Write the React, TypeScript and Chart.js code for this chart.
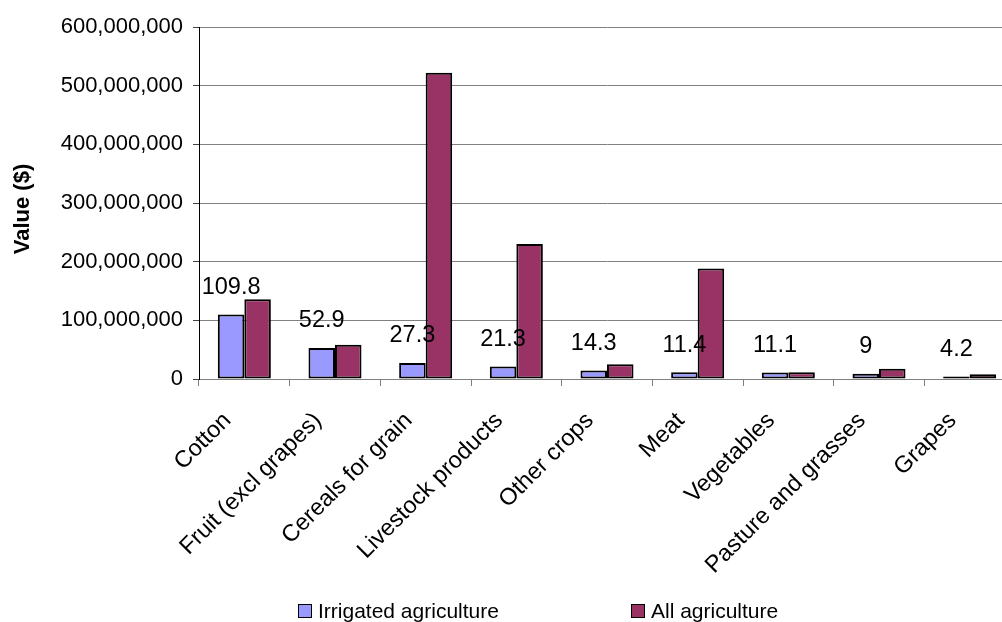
import { useEffect, useRef } from "react";
import { Chart, registerables } from "chart.js";

Chart.register(...registerables);

// Commodity groups on the category axis
const categories = [
  "Cotton",
  "Fruit (excl grapes)",
  "Cereals for grain",
  "Livestock products",
  "Other crops",
  "Meat",
  "Vegetables",
  "Pasture and grasses",
  "Grapes",
];

// Irrigated agriculture, $ million (also printed above each group)
const irrigatedMillions = [109.8, 52.9, 27.3, 21.3, 14.3, 11.4, 11.1, 9, 4.2];

// All agriculture, $ million
const allMillions = [136, 58.5, 522, 230, 25, 188.5, 11.6, 17.6, 8];

const seriesNames = ["Irrigated agriculture", "All agriculture"];
const seriesColors = ["#9999FF", "#993366"];

const yMin = 0;
const yMax = 600000000;
const yStep = 100000000;
const yTitle = "Value ($)";

const FONT = "'Liberation Sans', Arial, Helvetica, sans-serif";

const toDollars = (m: number[]) => m.map((v) => v * 1000000);

// Prints the irrigated value ($m) above each blue bar
const valueLabels = {
  id: "valueLabels",
  afterDatasetsDraw(chart: any) {
    const meta = chart.getDatasetMeta(0);
    const ctx = chart.ctx;
    ctx.save();
    ctx.font = `23.5px ${FONT}`;
    ctx.fillStyle = "#000";
    ctx.textAlign = "center";
    ctx.textBaseline = "alphabetic";
    meta.data.forEach((bar: any, i: number) => {
      ctx.fillText(String(irrigatedMillions[i]), bar.x, bar.y - 20.5);
    });
    ctx.restore();
  },
};

// Vertical value-axis title, a little below the plot's middle
const axisTitle = {
  id: "axisTitle",
  afterDraw(chart: any) {
    const ctx = chart.ctx;
    const area = chart.chartArea;
    ctx.save();
    ctx.translate(23, (area.top + area.bottom) / 2 + 6);
    ctx.rotate(-Math.PI / 2);
    ctx.font = `bold 22px ${FONT}`;
    ctx.fillStyle = "#000";
    ctx.textAlign = "center";
    ctx.textBaseline = "middle";
    ctx.fillText(yTitle, 0, 0);
    ctx.restore();
  },
};

// Two-column legend under the category labels
const bottomLegend = {
  id: "bottomLegend",
  afterDraw(chart: any) {
    const ctx = chart.ctx;
    const columns = [298, 631];
    const y = 611;
    const box = 14;
    ctx.save();
    ctx.font = `21px ${FONT}`;
    ctx.textBaseline = "middle";
    ctx.textAlign = "left";
    seriesNames.forEach((name, i) => {
      const x = columns[i];
      ctx.fillStyle = seriesColors[i];
      ctx.fillRect(x, y - box / 2, box, box);
      ctx.strokeStyle = "#000";
      ctx.lineWidth = 1;
      ctx.strokeRect(x + 0.5, y - box / 2 + 0.5, box - 1, box - 1);
      ctx.fillStyle = "#000";
      ctx.fillText(name, x + box + 6, y + 1);
    });
    ctx.restore();
  },
};

export default function App() {
  const canvasRef = useRef<HTMLCanvasElement | null>(null);

  useEffect(() => {
    const canvas = canvasRef.current;
    if (!canvas) return;
    const chart = new Chart(canvas, {
      type: "bar",
      data: {
        labels: categories,
        datasets: [
          {
            label: seriesNames[0],
            data: toDollars(irrigatedMillions),
            backgroundColor: seriesColors[0],
            borderColor: "#000",
            borderWidth: 2,
            borderSkipped: false,
          },
          {
            label: seriesNames[1],
            data: toDollars(allMillions),
            backgroundColor: seriesColors[1],
            borderColor: "#000",
            borderWidth: 2,
            borderSkipped: false,
          },
        ],
      },
      options: {
        animation: false,
        responsive: false,
        devicePixelRatio: 1,
        datasets: {
          bar: { categoryPercentage: 0.585, barPercentage: 1 },
        },
        layout: { padding: { top: 27, right: 15, bottom: 0, left: 0 } },
        plugins: {
          legend: { display: false },
          tooltip: { enabled: false },
        },
        scales: {
          x: {
            afterFit(scale: any) {
              scale.height = 243;
            },
            grid: {
              offset: true,
              drawOnChartArea: false,
              drawTicks: true,
              tickLength: 7,
              color: "#808080",
            },
            border: { color: "#808080", width: 1 },
            ticks: {
              autoSkip: false,
              minRotation: 45,
              maxRotation: 45,
              padding: 21,
              labelOffset: -17,
              color: "#000",
              font: { family: FONT, size: 23.5 },
            },
          },
          y: {
            min: yMin,
            max: yMax,
            afterFit(scale: any) {
              scale.width = 199;
            },
            grid: {
              color: "#808080",
              tickColor: "#404040",
              tickLength: 6,
            },
            border: { color: "#000", width: 1 },
            ticks: {
              stepSize: yStep,
              padding: 10,
              color: "#000",
              font: { family: FONT, size: 22 },
              callback: (v: any) => Number(v).toLocaleString("en-US"),
            },
          },
        },
      },
      plugins: [valueLabels, axisTitle, bottomLegend],
    });
    return () => chart.destroy();
  }, []);

  return (
    <div
      style={{
        position: "absolute",
        left: 0,
        top: 0,
        width: 1002,
        height: 622,
        overflow: "hidden",
        background: "#fff",
      }}
    >
      <canvas
        ref={canvasRef}
        width={1030}
        height={622}
        style={{ width: 1030, height: 622, display: "block" }}
      />
    </div>
  );
}
